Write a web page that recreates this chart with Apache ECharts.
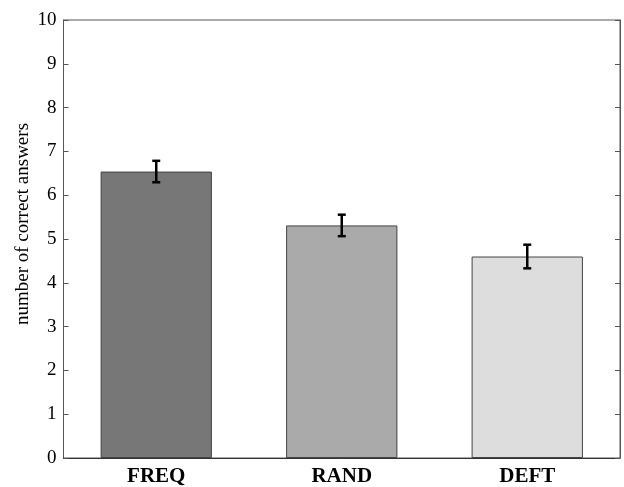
<!DOCTYPE html>
<html><head><meta charset="utf-8">
<script src="https://cdn.jsdelivr.net/npm/echarts@6/dist/echarts.min.js"></script>
<style>html,body{margin:0;padding:0;background:#fff}#c{width:624px;height:487px}</style>
</head><body><div id="c"></div>
<script>
var categories = ['FREQ', 'RAND', 'DEFT'];
var means = [6.54, 5.31, 4.60];
var errors = [0.245, 0.245, 0.27];
var barColors = ['#777777', '#aaaaaa', '#dddddd'];
var yTicks = [0,1,2,3,4,5,6,7,8,9,10];

var chart = echarts.init(document.getElementById('c'));
var font = 'Liberation Serif';
chart.setOption({
  animation: false,
  grid: {left: 63.5, right: 4, top: 20, bottom: 29, show: true, borderColor: '#555', borderWidth: 1, backgroundColor: 'transparent'},
  xAxis: [{
    type: 'category', data: categories,
    axisLine: {show: true, lineStyle: {color: '#333', width: 1}},
    axisTick: {show: false},
    axisLabel: {color: '#000', fontFamily: font, fontWeight: 'bold', fontSize: 21, margin: 8}
  }],
  yAxis: [{
    type: 'value', min: 0, max: 10, interval: 1,
    name: 'number of correct answers', nameLocation: 'middle', nameGap: 31, nameMoveOverlap: false,
    nameTextStyle: {color: '#000', fontFamily: font, fontSize: 19, padding: [0, 0, 0, 30]},
    axisLine: {show: true, lineStyle: {color: '#555'}},
    axisTick: {show: true, inside: true, length: 5, lineStyle: {color: '#555'}},
    axisLabel: {color: '#000', fontFamily: font, fontSize: 19, margin: 7},
    splitLine: {show: false}
  }, {
    type: 'value', min: 0, max: 10, interval: 1, position: 'right',
    axisLine: {show: true, lineStyle: {color: '#555'}},
    axisTick: {show: true, inside: true, length: 5, lineStyle: {color: '#555'}},
    axisLabel: {show: false}, splitLine: {show: false}
  }],
  series: [{
    type: 'bar', barWidth: '60%',
    data: means.map(function (v, i) {
      return {value: v, itemStyle: {color: barColors[i], borderColor: '#444', borderWidth: 1}};
    })
  }, {
    type: 'custom',
    data: means.map(function (v, i) { return [i, v - errors[i], v + errors[i]]; }),
    renderItem: function (params, api) {
      var lo = api.coord([api.value(0), api.value(1)]);
      var hi = api.coord([api.value(0), api.value(2)]);
      var w = 4;
      var st = {stroke: '#000', lineWidth: 2.5};
      return {type: 'group', children: [
        {type: 'line', shape: {x1: lo[0], y1: lo[1], x2: hi[0], y2: hi[1]}, style: st},
        {type: 'line', shape: {x1: lo[0]-w, y1: lo[1], x2: lo[0]+w, y2: lo[1]}, style: st},
        {type: 'line', shape: {x1: hi[0]-w, y1: hi[1], x2: hi[0]+w, y2: hi[1]}, style: st}
      ]};
    },
    z: 10
  }]
});
</script></body></html>
